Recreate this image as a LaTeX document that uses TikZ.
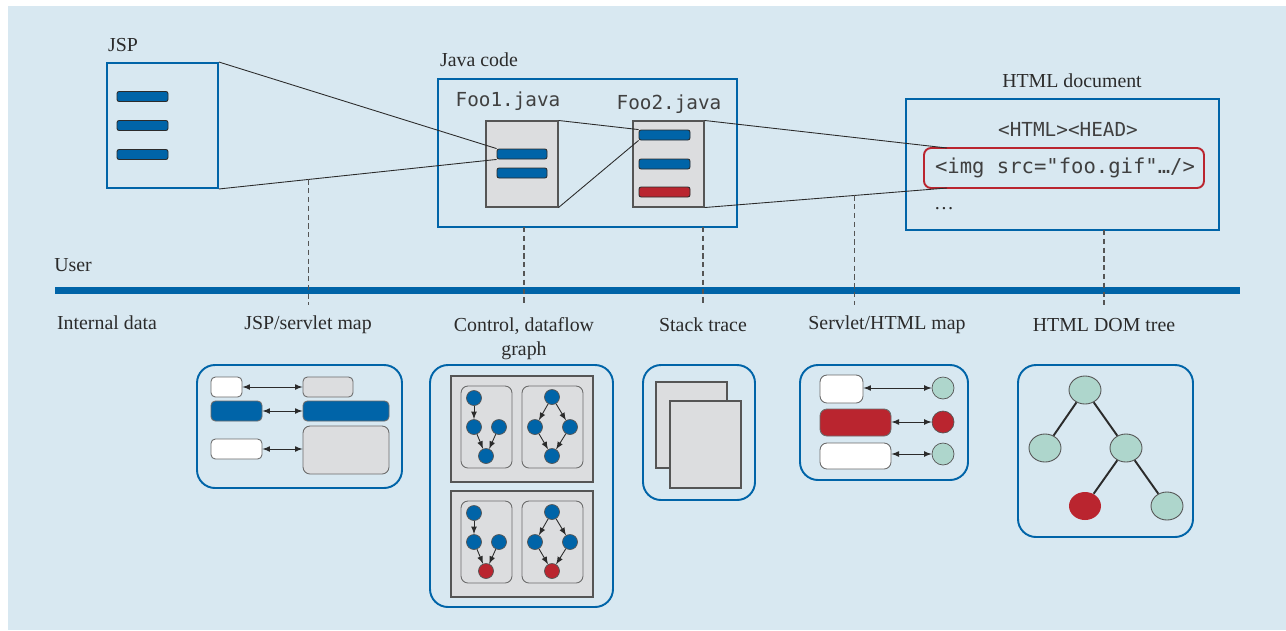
\documentclass[tikz,border=0pt]{standalone}
\usepackage{fontspec}
\setmainfont{Liberation Serif}
\setmonofont{DejaVu Sans Mono}
\usepackage{tikz}
\usepackage{xcolor}
\usetikzlibrary{shapes.geometric}

\definecolor{bgblue}{HTML}{D8E8F1}
\definecolor{ibmblue}{HTML}{0064A8}
\definecolor{errred}{HTML}{BA252F}
\definecolor{docgray}{HTML}{DCDDDF}
\definecolor{mint}{HTML}{AED6CC}
\definecolor{ink}{HTML}{2B2B2B}

\tikzset{
  sz/.style 2 args={minimum width=#1*0.02cm, minimum height=#2*0.02cm},
  frame/.style={draw=ibmblue, line width=1.1pt, inner sep=0pt},
  panel/.style={frame, rounded corners=0.36cm},
  bar/.style={draw=ink, line width=0.5pt, fill=ibmblue, rounded corners=1.2pt, inner sep=0pt},
  doc/.style={draw=ink!80, line width=0.6pt, fill=docgray, inner sep=0pt},
  cell/.style={draw=ink!70, line width=0.5pt, rounded corners=2.5pt, inner sep=0pt},
  lbl/.style={font=\fontsize{11.3}{13.6}\selectfont, text=ink, inner sep=0pt},
  code/.style={font=\ttfamily\fontsize{11}{12}\selectfont, text=ink!90, inner sep=0pt},
  link/.style={draw=ink, line width=0.5pt},
  guide/.style={draw=ink!80, line width=0.6pt, dash pattern=on 3pt off 2pt},
  gnode/.style={circle, draw=ink!80, line width=0.4pt, fill=ibmblue, minimum size=0.3cm, inner sep=0pt},
  cnode/.style={circle, draw=ink!80, line width=0.4pt, fill=mint, minimum size=0.44cm, inner sep=0pt},
  tnode/.style={ellipse, draw=ink!80, line width=0.5pt, fill=mint, sz={32}{28}, inner sep=0pt},
  >=latex
}

\begin{document}
\begin{tikzpicture}[x=0.02cm, y=-0.02cm]
  \useasboundingbox (0,0) rectangle (1286,630);
  \fill[bgblue] (8,6) rectangle (1286,630);

  % JSP page
  \node[lbl] (jsplbl) at (123,45) {JSP};
  \node[frame, sz={111}{125}] (jsp) at (162.5,125.5) {};
  \foreach \y [count=\i] in {96.5,125.5,154.5}
    \node[bar, sz={51}{10}] (j\i) at (142.5,\y) {};

  % Java code
  \node[lbl] (javalbl) at (479,60) {Java code};
  \node[frame, sz={299}{148}] (java) at (587.5,153) {};
  \node[code] (foo1lbl) at (508,101) {Foo1.java};
  \node[code] (foo2lbl) at (669,104) {Foo2.java};
  \node[doc, sz={72}{86}] (foo1) at (522,164) {};
  \node[bar, sz={50}{10}] (f1b1) at (522,154) {};
  \node[bar, sz={50}{10}] (f1b2) at (522,173) {};
  \node[doc, sz={71}{86}] (foo2) at (668.5,164) {};
  \node[bar, sz={51}{10}] (f2b1) at (664.5,135) {};
  \node[bar, sz={51}{10}] (f2b2) at (664.5,164) {};
  \node[bar, fill=errred, sz={51}{10}] (f2b3) at (664.5,192) {};

  % HTML document
  \node[lbl] (htmllbl) at (1072,81) {HTML document};
  \node[frame, sz={313}{131}] (html) at (1062.5,164.5) {};
  \node[code] (headtxt) at (1068,129) {<HTML><HEAD>};
  \node[draw=errred, line width=1.1pt, rounded corners=4pt, sz={280}{40}] (imgbox) at (1064,168) {};
  \node[code, font=\ttfamily\fontsize{11.7}{12}\selectfont] (imgtxt) at (1065,168) {<img src="foo.gif"…/>};
  \node[lbl] (moretxt) at (944,209) {\ldots};
  \coordinate (imgtop) at (947,148);
  \coordinate (imgbot) at (947,188);

  % mapping lines
  \draw[link] (jsp.north east) -- (f1b1.north west);
  \draw[link] (jsp.south east) -- coordinate[pos=0.323] (d1) (f1b1.south west);
  \draw[link] (foo1.north east) -- (f2b1.north west);
  \draw[link] (foo1.south east) -- (f2b1.south west);
  \draw[link] (foo2.north east) -- (imgtop);
  \draw[link] (foo2.south east) -- coordinate[pos=0.62] (d4) (imgbot);

  % user / internal divide
  \node[lbl] (userlbl) at (73,265) {User};
  \coordinate (ul) at (55,290.5);
  \coordinate (ur) at (1240,290.5);
  \draw[ibmblue, line width=4pt] (ul) -- (ur);
  \coordinate (low) at (0,305);
  \coordinate (d2) at (524,227);
  \coordinate (d3) at (703,227);
  \coordinate (d5) at (1104,230);
  \foreach \d in {d1,d2,d3,d4,d5}
    \draw[guide] (\d) -- (\d |- low);

  % internal data labels
  \node[lbl] (intlbl) at (107,323) {Internal data};
  \node[lbl] (maplbl) at (308,325) {JSP/servlet map};
  \node[lbl, align=center, anchor=north] (cflbl) at (524,317) {Control, dataflow\\graph};
  \node[lbl] (stacklbl) at (703,325) {Stack trace};
  \node[lbl] (shmlbl) at (887,325) {Servlet/HTML map};
  \node[lbl] (domlbl) at (1104,325) {HTML DOM tree};

  % JSP/servlet map
  \node[panel, sz={205}{123}] (p1) at (299.5,426.5) {};
  \node[cell, fill=white, sz={31}{20}] (m1a) at (226.5,387) {};
  \node[cell, fill=docgray, sz={50}{20}] (m1b) at (328,387) {};
  \node[cell, fill=ibmblue, sz={51}{20}] (m2a) at (236.5,411) {};
  \node[cell, fill=ibmblue, sz={86}{20}] (m2b) at (346,411) {};
  \node[cell, fill=white, sz={51}{20}] (m3a) at (236.5,449) {};
  \node[cell, fill=docgray, sz={86}{48}, rounded corners=4pt] (m3b) at (346,450) {};
  \foreach \i in {1,2,3}
    \draw[<->, link] (m\i a) -- (m\i a -| m\i b.west);

  % control, dataflow graph
  \node[panel, sz={183}{242}] (p2) at (521.5,486) {};
  \foreach \dy/\fc [count=\k] in {0/ibmblue,115/errred} {
    \node[doc, sz={142}{106}] (cf\k) at (522,429+\dy) {};
    \node[cell, fill=docgray, rounded corners=4pt, sz={51}{82}] (cfa\k) at (486.5,427+\dy) {};
    \node[cell, fill=docgray, rounded corners=4pt, sz={61}{82}] (cfb\k) at (552.5,427+\dy) {};
    \node[gnode] (a\k1) at (474,398+\dy) {};
    \node[gnode] (a\k2) at (474,427+\dy) {};
    \node[gnode] (a\k3) at (499,427+\dy) {};
    \node[gnode, fill=\fc] (a\k4) at (486,456+\dy) {};
    \node[gnode] (b\k1) at (552,397+\dy) {};
    \node[gnode] (b\k2) at (535,427+\dy) {};
    \node[gnode] (b\k3) at (570,427+\dy) {};
    \node[gnode, fill=\fc] (b\k4) at (552,456+\dy) {};
    \draw[->, link] (a\k1) -- (a\k2);
    \draw[->, link] (a\k2) -- (a\k4);
    \draw[->, link] (a\k3) -- (a\k4);
    \draw[->, link] (b\k1) -- (b\k2);
    \draw[->, link] (b\k1) -- (b\k3);
    \draw[->, link] (b\k2) -- (b\k4);
    \draw[->, link] (b\k3) -- (b\k4);
  }

  % stack trace
  \node[panel, sz={112}{135}] (p3) at (699,432.5) {};
  \node[doc, sz={71}{86}] (page1) at (691.5,425) {};
  \node[doc, sz={71}{87}] (page2) at (705.5,444.5) {};

  % servlet/HTML map
  \node[panel, sz={168}{115}] (p4) at (884,422.5) {};
  \node[cell, fill=white, rounded corners=4pt, sz={43}{28}] (s1) at (841.5,389) {};
  \node[cell, fill=errred, rounded corners=4pt, sz={71}{27}] (s2) at (855.5,422.5) {};
  \node[cell, fill=white, rounded corners=4pt, sz={71}{26}] (s3) at (855.5,456) {};
  \node[cnode] (h1) at (943,388) {};
  \node[cnode, fill=errred] (h2) at (943,422) {};
  \node[cnode] (h3) at (943,454) {};
  \foreach \i in {1,2,3}
    \draw[<->, link] (s\i.east |- h\i) -- (h\i);

  % HTML DOM tree
  \node[panel, sz={175}{172}] (p5) at (1105.5,451) {};
  \node[tnode] (t1) at (1085,390) {};
  \node[tnode] (t2) at (1045,448) {};
  \node[tnode] (t3) at (1126,448) {};
  \node[tnode, fill=errred, draw=none] (t4) at (1085,506) {};
  \node[tnode] (t5) at (1167,506) {};
  \draw[ink, line width=1.1pt] (t1) -- (t2) (t1) -- (t3) (t3) -- (t4) (t3) -- (t5);
\end{tikzpicture}
\end{document}
